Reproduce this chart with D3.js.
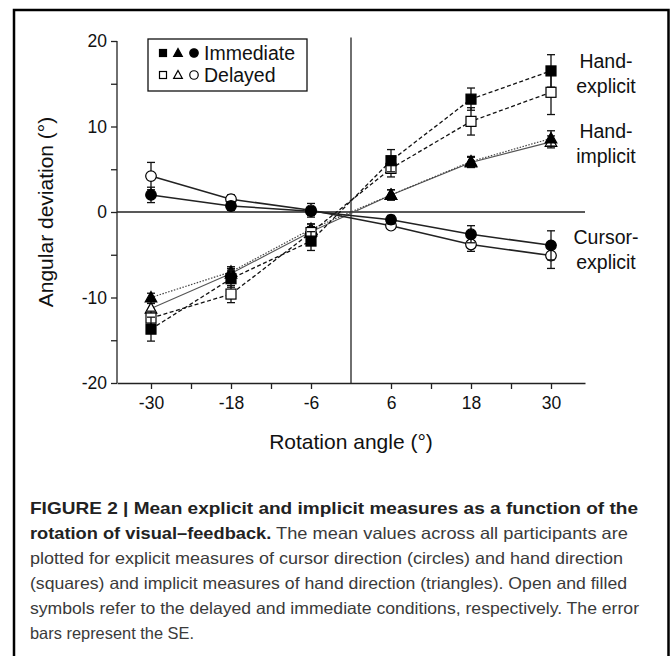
<!DOCTYPE html>
<html><head><meta charset="utf-8">
<script src="https://cdn.jsdelivr.net/npm/d3@7"></script>
<style>body{margin:0;background:#fff}</style>
</head><body><svg id="c" width="672" height="656" xmlns="http://www.w3.org/2000/svg"></svg>
<script>
const angles = [-30, -18, -6, 6, 18, 30];
const minorXTicks = [-24, -12, 12, 24];
const yTicks = [-20, -10, 0, 10, 20];
const yMinorTicks = [-15, -5, 5, 15];

const handExpImm   = [-13.7, -7.8, -3.4, 6.0, 13.2, 16.5];
const handExpImmSE = [1.4, 1.0, 1.1, 1.3, 1.3, 1.9];
const handExpDel   = [-12.4, -9.6, -2.4, 5.1, 10.6, 14.0];
const handExpDelSE = [0.8, 1.0, 1.0, 1.0, 1.6, 2.6];
const handImpImm   = [-10.0, -7.0, -2.0, 2.0, 5.9, 8.6];
const handImpImmSE = [0.5, 0.6, 0.6, 0.6, 0.6, 0.9];
const handImpDel   = [-11.3, -7.2, -2.3, 2.0, 5.8, 8.2];
const handImpDelSE = [0.6, 0.6, 0.6, 0.6, 0.6, 0.7];
const curImm   = [2.0, 0.7, 0.1, -0.9, -2.6, -3.9];
const curImmSE = [0.9, 0.5, 0.5, 0.5, 1.0, 1.7];
const curDel   = [4.2, 1.5, 0.2, -1.6, -3.8, -5.1];
const curDelSE = [1.6, 0.5, 0.8, 0.4, 0.8, 1.5];

const legendLabels = ["Immediate", "Delayed"];
const captionLines = [
  [["FIGURE 2 | Mean explicit and implicit measures as a function of the", true]],
  [["rotation of visual–feedback.", true], [" The mean values across all participants are", false]],
  [["plotted for explicit measures of cursor direction (circles) and hand direction", false]],
  [["(squares) and implicit measures of hand direction (triangles). Open and filled", false]],
  [["symbols refer to the delayed and immediate conditions, respectively. The error", false]],
  [["bars represent the SE.", false]]
];
const captionWidths = [608, 598, 593, 597, 609, 164];

const svg = d3.select("#c");
const font = "Liberation Sans, Arial, Helvetica, sans-serif";

// frame
svg.append("rect").attr("x", 14).attr("y", 10).attr("width", 654.5).attr("height", 700)
  .attr("fill", "none").attr("stroke", "#000").attr("stroke-width", 2.5);

const x = d3.scaleLinear().domain([-35.1, 35.1]).range([117, 585]);
const y = d3.scaleLinear().domain([-20, 20]).range([383, 41]);

// axes
const yAxis = d3.axisLeft(y).tickValues(yTicks.concat(yMinorTicks)).tickSize(6).tickSizeOuter(0)
  .tickFormat(d => yTicks.includes(d) ? String(d) : "");
const gy = svg.append("g").attr("transform", `translate(${x.range()[0]},0)`).call(yAxis);
gy.select(".domain").attr("d", `M0,${y(-20)}V${y(20)}`);

const xAxis = d3.axisBottom(x).tickValues(angles.concat(minorXTicks)).tickSize(6).tickSizeOuter(0)
  .tickFormat(d => angles.includes(d) ? String(d) : "");
const gx = svg.append("g").attr("transform", `translate(0,${y(-20)})`).call(xAxis);

[gx, gy].forEach(g => {
  g.selectAll("path,line").attr("stroke", "#222").attr("stroke-width", 1.3);
  g.selectAll("text").attr("font-family", font).attr("font-size", 17.5).attr("fill", "#111");
});
gy.selectAll("text").attr("x", -10);
gx.selectAll("text").attr("y", 14);

// zero lines
svg.append("line").attr("x1", x.range()[0]).attr("x2", x.range()[1]).attr("y1", y(0)).attr("y2", y(0))
  .attr("stroke", "#222").attr("stroke-width", 1.3);
svg.append("line").attr("x1", x(0)).attr("x2", x(0)).attr("y1", y(20.4)).attr("y2", y(-20))
  .attr("stroke", "#222").attr("stroke-width", 1.3);

// axis titles
svg.append("text").attr("x", x(0)).attr("y", 449).attr("text-anchor", "middle")
  .attr("font-family", font).attr("font-size", 21).attr("fill", "#111").text("Rotation angle (°)");
svg.append("text").attr("transform", `translate(53,${y(0)}) rotate(-90)`).attr("text-anchor", "middle")
  .attr("font-family", font).attr("font-size", 21).attr("fill", "#111").text("Angular deviation (°)");

const series = [
  {v: handImpDel, se: handImpDelSE, shape: "tri", fill: "#fff", dash: null, stroke: "#555", w: 1.1},
  {v: handImpImm, se: handImpImmSE, shape: "tri", fill: "#000", dash: "1.5,1.5", stroke: "#444", w: 1.2},
  {v: handExpDel, se: handExpDelSE, shape: "sq", fill: "#fff", dash: "4,2.5", stroke: "#111", w: 1.3},
  {v: handExpImm, se: handExpImmSE, shape: "sq", fill: "#000", dash: "4,2.5", stroke: "#111", w: 1.3},
  {v: curDel, se: curDelSE, shape: "circ", fill: "#fff", dash: null, stroke: "#222", w: 1.5},
  {v: curImm, se: curImmSE, shape: "circ", fill: "#000", dash: null, stroke: "#222", w: 1.5}
];

const line = d3.line().x((d, i) => x(angles[i])).y(d => y(d));

function drawSymbol(g, shape, cx, cy, fill, s) {
  s = s || 1;
  if (shape === "sq") {
    g.append("rect").attr("x", cx - 5 * s).attr("y", cy - 5 * s).attr("width", 10 * s).attr("height", 10 * s)
      .attr("fill", fill).attr("stroke", "#000").attr("stroke-width", 1.2);
  } else if (shape === "tri") {
    const h = 10 * s;
    g.append("path").attr("d", `M${cx},${cy - h * 0.6}L${cx + 5.8 * s},${cy + h * 0.45}L${cx - 5.8 * s},${cy + h * 0.45}Z`)
      .attr("fill", fill).attr("stroke", "#000").attr("stroke-width", 1.2);
  } else {
    g.append("circle").attr("cx", cx).attr("cy", cy).attr("r", 5.3 * s)
      .attr("fill", fill).attr("stroke", "#000").attr("stroke-width", 1.2);
  }
}

// lines
series.forEach(s => {
  svg.append("path").attr("d", line(s.v)).attr("fill", "none").attr("stroke", s.stroke)
    .attr("stroke-width", s.w).attr("stroke-dasharray", s.dash);
});
// error bars and markers
series.forEach(s => {
  const g = svg.append("g");
  s.v.forEach((v, i) => {
    const cx = x(angles[i]);
    g.append("line").attr("x1", cx).attr("x2", cx).attr("y1", y(v + s.se[i])).attr("y2", y(v - s.se[i]))
      .attr("stroke", "#111").attr("stroke-width", 1.3);
    [v + s.se[i], v - s.se[i]].forEach(e => {
      g.append("line").attr("x1", cx - 4).attr("x2", cx + 4).attr("y1", y(e)).attr("y2", y(e))
        .attr("stroke", "#111").attr("stroke-width", 1.3);
    });
  });
  s.v.forEach((v, i) => drawSymbol(g, s.shape, x(angles[i]), y(v), s.fill));
});

// legend
const lg = svg.append("g");
lg.append("rect").attr("x", 148).attr("y", 39).attr("width", 159).attr("height", 52)
  .attr("fill", "#fff").attr("stroke", "#111").attr("stroke-width", 1.3);
legendLabels.forEach((lab, r) => {
  const cy = 53 + r * 22;
  const fill = r === 0 ? "#000" : "#fff";
  drawSymbol(lg, "sq", 163, cy, fill, 0.7);
  drawSymbol(lg, "tri", 178, cy, fill, 0.75);
  drawSymbol(lg, "circ", 194, cy, fill, 0.8);
  lg.append("text").attr("x", 204).attr("y", cy + 7).attr("font-family", font).attr("font-size", 19.5)
    .attr("fill", "#111").text(lab);
});

// series labels
const seriesLabels = [["Hand-", 68], ["explicit", 93], ["Hand-", 138], ["implicit", 163], ["Cursor-", 244], ["explicit", 269]];
seriesLabels.forEach(([t, yy]) => {
  svg.append("text").attr("x", 606).attr("y", yy).attr("text-anchor", "middle")
    .attr("font-family", font).attr("font-size", 19.5).attr("fill", "#111").text(t);
});

// caption
captionLines.forEach((parts, i) => {
  const t = svg.append("text").attr("x", 30).attr("y", 514 + i * 25)
    .attr("font-family", font).attr("font-size", 16.5);
  if (captionWidths[i]) t.attr("textLength", captionWidths[i]).attr("lengthAdjust", "spacingAndGlyphs");
  parts.forEach(([txt, bold]) => {
    t.append("tspan").attr("font-weight", bold ? "bold" : "normal")
      .attr("fill", bold ? "#222" : "#3a3a3a").text(txt);
  });
});
</script></body></html>
